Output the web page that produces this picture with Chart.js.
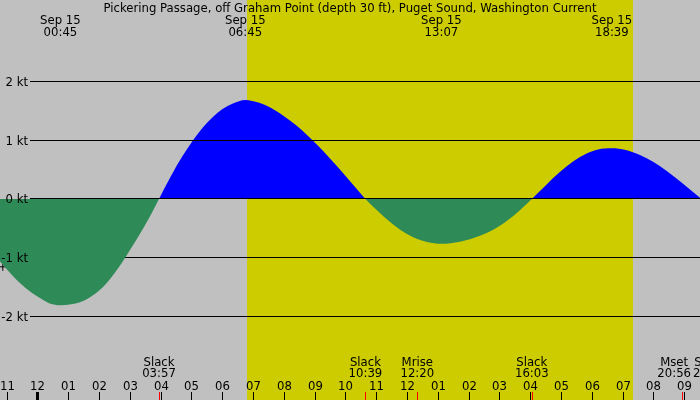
<!DOCTYPE html>
<html>
<head>
<meta charset="utf-8">
<script src="https://cdn.jsdelivr.net/npm/chart.js@4/dist/chart.umd.min.js"></script>
<style>
  html, body { margin: 0; padding: 0; background: #c0c0c0; }
  #wrap { width: 700px; height: 400px; }
</style>
</head>
<body>
<div id="wrap"><canvas id="tide" width="700" height="400"></canvas></div>
<script>
// hours after midnight Sep 15, current speed in knots
const hours = [-1.211, -0.8, -0.4, 0.088, 0.4, 0.75, 1.1, 1.386, 1.7, 2.035, 2.4, 2.846, 3.1, 3.333, 3.65, 3.95,
  4.27, 4.6, 5.06, 5.4, 5.7, 6.0, 6.35, 6.75, 7.2, 7.66, 8.2, 8.6, 8.94, 9.3, 9.7, 10.2, 10.65,
  11.0, 11.45, 11.8, 12.2, 12.65, 13.117, 13.72, 14.37, 14.8, 15.15, 15.45, 15.75, 16.05,
  16.5, 16.97, 17.4, 17.83, 18.2, 18.65, 19.1, 19.56, 20.0, 20.43, 20.9, 21.51];
const knots = [-1.06, -1.30, -1.50, -1.68, -1.77, -1.80, -1.785, -1.75, -1.67, -1.54, -1.33, -1.00, -0.79, -0.59, -0.30, 0,
  0.32, 0.63, 1.00, 1.23, 1.39, 1.52, 1.62, 1.68, 1.63, 1.52, 1.33, 1.16, 0.99, 0.80, 0.57, 0.27, 0,
  -0.18, -0.39, -0.53, -0.65, -0.73, -0.76, -0.725, -0.625, -0.52, -0.405, -0.29, -0.15, 0,
  0.23, 0.46, 0.64, 0.77, 0.84, 0.86, 0.83, 0.745, 0.625, 0.475, 0.285, 0.02];

const title = 'Pickering Passage, off Graham Point (depth 30 ft), Puget Sound, Washington Current';
const levels = [2, 1, 0, -1, -2];
const peakDate = 'Sep 15';
const peakTimes = ['00:45', '06:45', '13:07', '18:39'];
const eventNames = ['Slack', 'Slack', 'Mrise', 'Slack', 'Mset', 'Slack'];
const eventTimes = ['03:57', '10:39', '12:20', '16:03', '20:56', '21:31'];
const hourTicks = [-1, 0, 1, 2, 3, 4, 5, 6, 7, 8, 9, 10, 11, 12, 13, 14, 15, 16, 17, 18, 19, 20, 21];
const hourLabels = ['11', '12', '01', '02', '03', '04', '05', '06', '07', '08', '09', '10',
  '11', '12', '01', '02', '03', '04', '05', '06', '07', '08', '09'];
const sunrise = '06:48';
const sunset = '19:21';
const nowMark = [{ x: -1.12, y: -1.15 }];

const toHours = t => { const p = t.split(':'); return +p[0] + p[1] / 60; };
const FONT = '11.7px "DejaVu Sans", sans-serif';

const tidePlugin = {
  id: 'tide',
  beforeDraw(chart) {
    const ctx = chart.ctx, xs = chart.scales.x;
    ctx.save();
    ctx.fillStyle = '#c0c0c0';
    ctx.fillRect(0, 0, chart.width, chart.height);
    const a = Math.round(xs.getPixelForValue(toHours(sunrise)));
    const b = Math.round(xs.getPixelForValue(toHours(sunset)));
    ctx.fillStyle = '#cccc00';
    ctx.fillRect(a, 0, b - a, chart.height);
    ctx.restore();
  },
  beforeDatasetsDraw(chart) {
    // negative depth lines sit under the ebb fill
    const ctx = chart.ctx, ys = chart.scales.y;
    ctx.save();
    ctx.fillStyle = '#000';
    levels.filter(v => v < 0).forEach(v => {
      ctx.fillRect(30, Math.floor(ys.getPixelForValue(v)), chart.width - 30, 1);
    });
    ctx.restore();
  },
  afterDatasetsDraw(chart) {
    const ctx = chart.ctx, xs = chart.scales.x, ys = chart.scales.y;
    const W = chart.width;
    ctx.save();
    ctx.fillStyle = '#000';
    levels.filter(v => v >= 0).forEach(v => {
      ctx.fillRect(30, Math.floor(ys.getPixelForValue(v)), W - 30, 1);
    });

    ctx.font = FONT;
    ctx.textBaseline = 'alphabetic';
    // level labels
    ctx.textAlign = 'right';
    levels.forEach(v => {
      ctx.fillText(v + ' kt', 28, Math.floor(ys.getPixelForValue(v)) + 5);
    });

    // title and peak times
    ctx.textAlign = 'center';
    ctx.fillText(title, W / 2, 12);
    peakTimes.forEach(t => {
      const px = xs.getPixelForValue(toHours(t));
      ctx.fillText(peakDate, px, 24);
      ctx.fillText(t, px, 36);
    });

    // hour ticks and labels
    hourTicks.forEach((h, i) => {
      const px = Math.round(xs.getPixelForValue(h));
      ctx.fillStyle = '#000';
      if (h === 0) ctx.fillRect(px - 1, 392, 3, 8);
      else ctx.fillRect(px, 392, 1, 8);
      ctx.textAlign = 'center';
      ctx.fillText(hourLabels[i], px + 0.5, 390);
    });

    // events along the bottom
    eventNames.forEach((name, i) => {
      const px = xs.getPixelForValue(toHours(eventTimes[i]));
      ctx.fillStyle = '#ff0000';
      ctx.fillRect(Math.round(px), 392, 1, 8);
      ctx.fillStyle = '#000';
      const nw = ctx.measureText(name).width, tw = ctx.measureText(eventTimes[i]).width;
      const w = Math.max(nw, tw);
      let left = px - w / 2;
      if (i === eventNames.length - 1) left = Math.max(left, 693);
      else if (left + w > 691) left = 691 - w;
      ctx.textAlign = 'left';
      ctx.fillText(name, left + (w - nw) / 2, 366);
      ctx.fillText(eventTimes[i], left + (w - tw) / 2, 377);
    });
    ctx.restore();
  }
};

new Chart(document.getElementById('tide'), {
  type: 'line',
  data: {
    datasets: [{
      data: hours.map((h, i) => ({ x: h, y: knots[i] })),
      borderWidth: 0,
      borderColor: 'rgba(0,0,0,0)',
      pointRadius: 0,
      cubicInterpolationMode: 'monotone',
      fill: { target: { value: 0 }, above: '#0000ff', below: '#2e8b57' }
    }, {
      type: 'scatter',
      data: nowMark,
      pointStyle: 'cross',
      pointRadius: 4,
      borderColor: '#000',
      borderWidth: 1,
      clip: false
    }]
  },
  options: {
    responsive: false,
    devicePixelRatio: 1,
    animation: false,
    layout: { padding: 0, autoPadding: false },
    plugins: { legend: { display: false }, tooltip: { enabled: false } },
    scales: {
      x: { type: 'linear', display: false, min: -1.211, max: 21.51 },
      y: { type: 'linear', display: false, min: -3.407, max: 3.373 }
    }
  },
  plugins: [tidePlugin]
});
</script>
</body>
</html>
